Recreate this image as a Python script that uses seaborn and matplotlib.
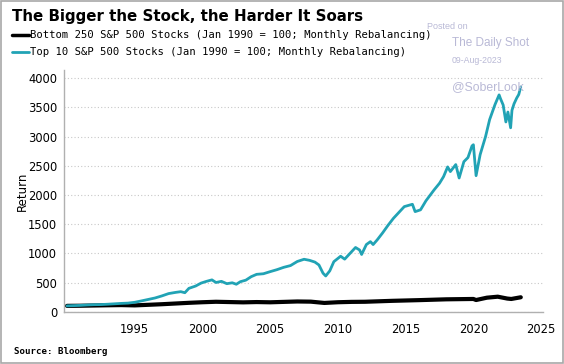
import pandas as pd
import matplotlib.pyplot as plt
import seaborn as sns
from matplotlib.patches import Rectangle

# Top 10 S&P 500 stocks (Jan 1990 = 100)
top_years = [1990.0, 1990.5, 1991.0, 1991.5, 1992.0, 1992.5, 1993.0, 1993.5, 1994.0, 1994.5,
             1995.0, 1995.5, 1996.0, 1996.5, 1997.0, 1997.5, 1998.0, 1998.4, 1998.7, 1999.0,
             1999.5, 1999.9, 2000.3, 2000.7, 2001.0, 2001.4, 2001.8, 2002.2, 2002.5, 2002.8,
             2003.2, 2003.6, 2004.0, 2004.5, 2005.0, 2005.5, 2006.0, 2006.5, 2007.0, 2007.5,
             2007.9, 2008.3, 2008.6, 2008.9, 2009.1, 2009.4, 2009.7, 2010.2, 2010.5, 2010.9,
             2011.3, 2011.6, 2011.75, 2012.1, 2012.4, 2012.6, 2012.9, 2013.3, 2013.7, 2014.1,
             2014.5, 2014.9, 2015.5, 2015.7, 2016.1, 2016.5, 2017.1, 2017.5, 2017.8, 2018.1,
             2018.3, 2018.7, 2018.95, 2019.3, 2019.6, 2019.9, 2020.0, 2020.2, 2020.5, 2020.9,
             2021.2, 2021.6, 2021.9, 2022.0, 2022.2, 2022.4, 2022.55, 2022.75, 2022.85, 2023.0,
             2023.2, 2023.35, 2023.5]
top_values = [100, 104, 108, 115, 120, 122, 128, 135, 142, 147,
              161, 185, 210, 235, 270, 310, 330, 343, 325, 400,
              440, 490, 520, 545, 500, 520, 480, 495, 470, 514,
              540, 600, 640, 650, 686, 720, 760, 790, 860, 898,
              880, 850, 800, 660, 612, 700, 857, 950, 900, 1000,
              1100, 1057, 980, 1150, 1200, 1150, 1230, 1350, 1480, 1600,
              1700, 1800, 1840, 1714, 1745, 1900, 2086, 2200, 2314, 2480,
              2400, 2520, 2290, 2570, 2640, 2840, 2860, 2330, 2690, 3000,
              3290, 3550, 3714, 3650, 3540, 3250, 3420, 3150, 3450, 3560,
              3660, 3720, 3850]

# Bottom 250 S&P 500 stocks (Jan 1990 = 100)
bottom_years = [1990, 1991, 1992, 1993, 1994, 1995, 1996, 1997, 1998, 1999,
                2000, 2001, 2002, 2003, 2004, 2005, 2006, 2007, 2008, 2009,
                2010, 2011, 2012, 2013, 2014, 2015, 2016, 2017, 2018, 2019,
                2020, 2020.2, 2021, 2021.8, 2022.5, 2022.8, 2023.5]
bottom_values = [100, 102, 106, 110, 113, 108, 118, 128, 140, 152,
                 162, 170, 165, 160, 165, 161, 168, 175, 172, 150,
                 162, 168, 170, 178, 186, 192, 198, 205, 212, 215,
                 218, 200, 240, 257, 225, 218, 247]

bottom_label = 'Bottom 250 S&P 500 Stocks (Jan 1990 = 100; Monthly Rebalancing)'
top_label = 'Top 10 S&P 500 Stocks (Jan 1990 = 100; Monthly Rebalancing)'

df = pd.concat([
    pd.DataFrame({'Year': bottom_years, 'Return': bottom_values, 'Series': bottom_label}),
    pd.DataFrame({'Year': top_years, 'Return': top_values, 'Series': top_label}),
])

sns.set_style('white')
plt.rcParams['text.color'] = 'black'
plt.rcParams['axes.labelcolor'] = 'black'
plt.rcParams['xtick.color'] = 'black'
plt.rcParams['ytick.color'] = 'black'

fig = plt.figure(figsize=(5.64, 3.64), dpi=100)
ax = fig.add_axes([0.1135, 0.1437, 0.8495, 0.664])

teal = '#21a3b5'
sns.lineplot(data=df[df['Series'] == bottom_label], x='Year', y='Return', color='black',
             linewidth=3.0, ax=ax, legend=False)
sns.lineplot(data=df[df['Series'] == top_label], x='Year', y='Return', color=teal,
             linewidth=2.0, ax=ax, legend=False)

ax.set_xlim(1989.78, 2025.15)
ax.set_ylim(0, 4140)
ax.set_yticks(range(0, 4001, 500))
ax.set_xticks(range(1995, 2026, 5))
ax.grid(axis='y', color='#c8c8c8', linestyle=(0, (1, 2)), linewidth=0.8)
ax.set_axisbelow(True)
for s in ['top', 'right']:
    ax.spines[s].set_visible(False)
for s in ['left', 'bottom']:
    ax.spines[s].set_color('#b0b0b0')
    ax.spines[s].set_linewidth(1.0)
ax.tick_params(axis='x', length=3, color='#b0b0b0', labelcolor='black', labelsize=8.3, pad=5)
ax.tick_params(axis='y', length=0, labelcolor='black', labelsize=8.3, pad=5)
ax.set_xlabel('')
ax.set_ylabel('Return', fontsize=8.5, labelpad=-1, color='black')

fig.text(0.021, 0.955, 'The Bigger the Stock, the Harder It Soars', fontsize=10.8,
         fontweight='bold', va='center', ha='left', color='black')
# legend
fig.add_artist(plt.Line2D([0.022, 0.051], [0.904, 0.904], color='black', linewidth=2.5))
fig.add_artist(plt.Line2D([0.022, 0.051], [0.858, 0.858], color=teal, linewidth=2.0))
fig.text(0.053, 0.904, bottom_label, family='DejaVu Sans Mono', fontsize=7.6, va='center')
fig.text(0.053, 0.858, top_label, family='DejaVu Sans Mono', fontsize=7.6, va='center')

wm = '#b9b9d6'
fig.text(0.757, 0.927, 'Posted on', family='Liberation Sans', fontsize=6.5, color=wm, va='center')
fig.text(0.801, 0.883, 'The Daily Shot', family='Liberation Sans', fontsize=8.5, color=wm, va='center')
fig.text(0.801, 0.833, '09-Aug-2023', family='Liberation Sans', fontsize=6.3, color=wm, va='center')
fig.text(0.801, 0.760, '@SoberLook', family='Liberation Sans', fontsize=8.8, color=wm, va='center')

fig.text(0.025, 0.033, 'Source: Bloomberg', family='DejaVu Sans Mono', fontsize=6.6,
         fontweight='bold', va='center')

fig.add_artist(Rectangle((0.001, 0.002), 0.997, 0.995, transform=fig.transFigure,
                         fill=False, edgecolor='#a8a8a8', linewidth=1.2))

fig.savefig('out.png', dpi=100)
